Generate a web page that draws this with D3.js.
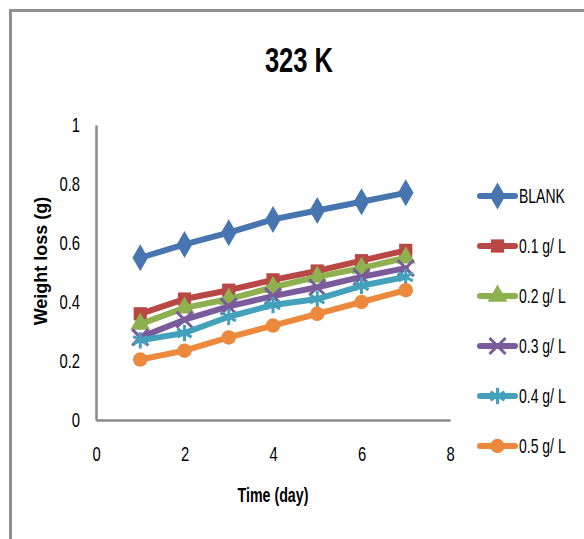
<!DOCTYPE html>
<html>
<head>
<meta charset="utf-8">
<script src="https://cdn.jsdelivr.net/npm/d3@7"></script>
<style>
  html, body { margin: 0; padding: 0; background: #fff; }
  svg { display: block; }
  text { font-family: "Liberation Sans", Arial, sans-serif; fill: #000; }
</style>
</head>
<body>
<svg id="chart" width="584" height="539"></svg>
<script>
// Weight loss over time at 323 K for the blank and each inhibitor concentration
const days = [1, 2, 3, 4, 5, 6, 7];
const seriesNames = ["BLANK", "0.1 g/ L", "0.2 g/ L", "0.3 g/ L", "0.4 g/ L", "0.5 g/ L"];
const blank = [0.55, 0.595, 0.635, 0.68, 0.71, 0.74, 0.77];
const conc01 = [0.36, 0.41, 0.44, 0.475, 0.505, 0.54, 0.575];
const conc02 = [0.325, 0.38, 0.41, 0.45, 0.485, 0.515, 0.55];
const conc03 = [0.28, 0.34, 0.385, 0.42, 0.45, 0.485, 0.515];
const conc04 = [0.27, 0.295, 0.35, 0.39, 0.41, 0.455, 0.485];
const conc05 = [0.205, 0.235, 0.28, 0.32, 0.36, 0.40, 0.44];
const xTicks = [0, 2, 4, 6, 8];
const yTicks = [0, 0.2, 0.4, 0.6, 0.8, 1];

const colors = ["#4775AF", "#B94845", "#8EB04F", "#7A5C9D", "#44A1BC", "#EC893D"];
const markers = ["diamond", "square", "triangle", "times", "asterisk", "circle"];
const allValues = [blank, conc01, conc02, conc03, conc04, conc05];

const svg = d3.select("#chart");

// narrow lettering: squeeze text horizontally around its own anchor x
const NARROW = 0.76;
function squeeze(sel, k) {
  sel.each(function () {
    const t = d3.select(this);
    const x0 = +t.attr("x") || 0;
    t.attr("x", x0 / k).attr("transform", `scale(${k},1)`);
  });
}

// outer frame (left and top edges visible)
svg.append("path")
  .attr("d", "M10.5,539 V10.5 H584")
  .attr("fill", "none")
  .attr("stroke", "#8E8E8E")
  .attr("stroke-width", 3);

const x = d3.scaleLinear().domain([0, 8]).range([96, 450]);
const y = d3.scaleLinear().domain([0, 1]).range([420, 125]);

const axisColor = "#898989";

// y axis
const yAxis = svg.append("g")
  .attr("transform", `translate(${x(0)},0)`)
  .call(d3.axisLeft(y).tickValues(yTicks).tickSize(0).tickPadding(16)
    .tickFormat(d => d === 0 || d === 1 ? String(d) : d3.format(".1f")(d)));
yAxis.select(".domain").attr("stroke", axisColor).attr("stroke-width", 2.5);
yAxis.selectAll("text").attr("font-size", 19.5).attr("font-family", null).attr("fill", "#000")
  .call(squeeze, NARROW);

// x axis
const xAxis = svg.append("g")
  .attr("transform", `translate(0,${y(0)})`)
  .call(d3.axisBottom(x).tickValues(xTicks).tickSize(0).tickPadding(34));
xAxis.select(".domain").attr("stroke", axisColor).attr("stroke-width", 2.5);
xAxis.selectAll("text").attr("font-size", 19.5).attr("font-family", null).attr("fill", "#000")
  .attr("dy", "0.35em")
  .call(squeeze, NARROW);

// titles
svg.append("text")
  .attr("x", 299).attr("y", 72)
  .attr("text-anchor", "middle")
  .attr("font-size", 35).attr("font-weight", "bold")
  .text("323 K")
  .call(squeeze, 0.73);

svg.append("text")
  .attr("x", 273).attr("y", 502)
  .attr("text-anchor", "middle")
  .attr("font-size", 19.5).attr("font-weight", "bold")
  .text("Time (day)")
  .call(squeeze, 0.73);

svg.append("text")
  .attr("transform", "translate(47,261) rotate(-90)")
  .attr("text-anchor", "middle")
  .attr("font-size", 18).attr("font-weight", "bold")
  .text("Weight loss (g)");

// marker shapes
const markerTypes = {
  diamond: [d3.symbolDiamond, 210],
  square: [d3.symbolSquare, 175],
  triangle: [d3.symbolTriangle, 170],
  times: [d3.symbolTimes, 170],
  asterisk: [d3.symbolAsterisk, 190],
  circle: [d3.symbolCircle, 165]
};
const strokeMarkers = new Set(["times", "asterisk"]);

function drawMarker(g, kind, color) {
  const [type, size] = markerTypes[kind];
  const p = g.append("path").attr("d", d3.symbol().type(type).size(size)());
  if (strokeMarkers.has(kind)) {
    p.attr("fill", "none").attr("stroke", color).attr("stroke-width", 3);
  } else {
    p.attr("fill", color);
  }
  return p;
}

const line = d3.line().x((d, i) => x(days[i])).y(d => y(d));

allValues.forEach((vals, si) => {
  const g = svg.append("g");
  g.append("path")
    .attr("d", line(vals))
    .attr("fill", "none")
    .attr("stroke", colors[si])
    .attr("stroke-width", 6)
    .attr("stroke-linejoin", "round")
    .attr("stroke-linecap", "round");
  vals.forEach((v, i) => {
    const mg = g.append("g").attr("transform", `translate(${x(days[i])},${y(v)})`);
    drawMarker(mg, markers[si], colors[si]);
  });
});

// legend
const legend = svg.append("g");
seriesNames.forEach((name, i) => {
  const ly = 196 + i * 50;
  const row = legend.append("g").attr("transform", `translate(0,${ly})`);
  row.append("line")
    .attr("x1", 480).attr("x2", 515)
    .attr("stroke", colors[i]).attr("stroke-width", 6)
    .attr("stroke-linecap", "round");
  const mg = row.append("g").attr("transform", "translate(497.5,0)");
  drawMarker(mg, markers[i], colors[i]);
  row.append("text")
    .attr("x", 519).attr("y", 0).attr("dy", "0.36em")
    .attr("font-size", 20)
    .text(name)
    .call(squeeze, 0.7);
});
</script>
</body>
</html>
